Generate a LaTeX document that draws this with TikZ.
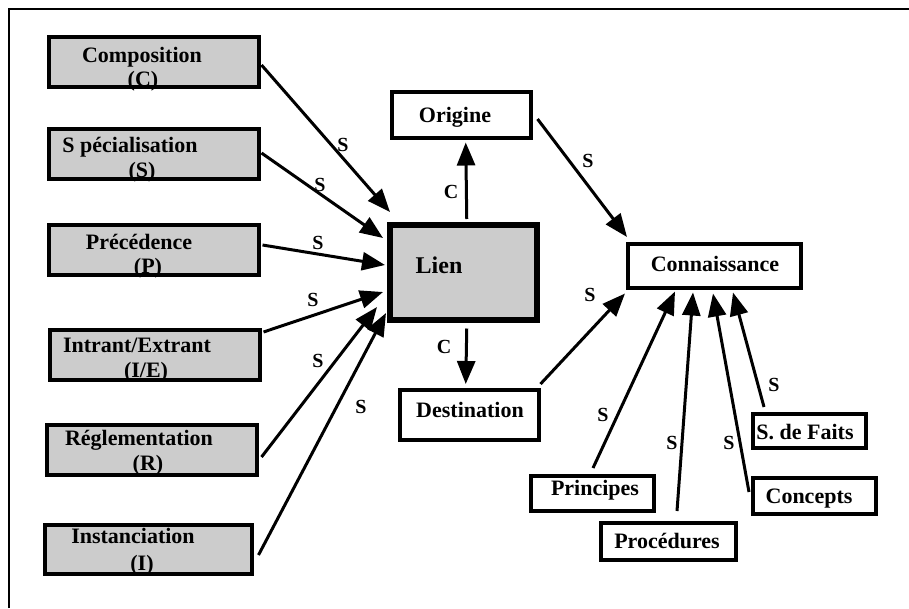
\documentclass[tikz,border=0pt]{standalone}
\usepackage{fontspec}
\setmainfont{Liberation Serif}
\usetikzlibrary{arrows.meta,calc}
\definecolor{boxgrey}{HTML}{CCCCCC}
\tikzset{
  greybox/.style={draw=black, fill=boxgrey, line width=3.5pt, inner sep=0pt, anchor=north west},
  whitebox/.style={draw=black, fill=white, line width=3.5pt, inner sep=0pt, anchor=north west},
  linkbox/.style={draw=black, fill=boxgrey, line width=5.5pt, inner sep=0pt, anchor=north west},
  txt/.style={inner sep=0pt, anchor=base, font=\fontsize{22}{24}\selectfont\bfseries},
  bigtxt/.style={inner sep=0pt, anchor=base, font=\fontsize{24}{26}\selectfont\bfseries},
  lbl/.style={inner sep=0pt, font=\fontsize{20}{22}\selectfont\bfseries},
  arr/.style={line width=3pt, -{Triangle[length=23pt,width=18pt]}},
  frame/.style={line width=2.4pt}
}
\begin{document}
\begin{tikzpicture}[x=1pt,y=-1pt]
\useasboundingbox (0,0) rectangle (909,608);
\draw[frame] (9,608) -- (9,9) -- (909,9);

% left boxes
\node[greybox, minimum width=210pt, minimum height=50pt] (comp) at (47,35) {};
\node[greybox, minimum width=210pt, minimum height=50pt] (spec) at (47,127) {};
\node[greybox, minimum width=210pt, minimum height=50pt] (prec) at (47,223) {};
\node[greybox, minimum width=210pt, minimum height=50pt] (intr) at (48,328) {};
\node[greybox, minimum width=210pt, minimum height=50pt] (regl) at (45,423) {};
\node[greybox, minimum width=207pt, minimum height=49pt] (inst) at (43,523) {};

\node[txt] (tcomp) at (142,62) {Composition};
\node[txt] (tcompb) at (143,86) {(C)};
\node[txt] (tspec) at (130,152) {S pécialisation};
\node[txt] (tspecb) at (142,177) {(S)};
\node[txt] (tprec) at (139,249) {Précédence};
\node[txt] (tprecb) at (148,273) {(P)};
\node[txt] (tintr) at (137,352) {Intrant/Extrant};
\node[txt] (tintrb) at (146,377) {(I/E)};
\node[txt] (tregl) at (139,445) {Réglementation};
\node[txt] (treglb) at (148,470) {(R)};
\node[txt] (tinst) at (133,543) {Instanciation};
\node[txt] (tinstb) at (142,570) {(I)};

% centre
\node[linkbox, minimum width=147pt, minimum height=95pt] (lien) at (387,222) {};
\node[bigtxt] (tlien) at (439,273) {Lien};
\node[whitebox, minimum width=139pt, minimum height=46pt] (orig) at (390,90) {};
\node[txt] (torig) at (455,122) {Origine};
\node[whitebox, minimum width=139pt, minimum height=50pt] (dest) at (398,388) {};
\node[txt] (tdest) at (470,417) {Destination};

% right
\node[whitebox, minimum width=173pt, minimum height=44pt] (conn) at (626,242) {};
\node[txt] (tconn) at (715,271) {Connaissance};
\node[whitebox, minimum width=123pt, minimum height=35pt] (prin) at (529,474) {};
\node[txt] (tprin) at (595,495) {Principes};
\node[whitebox, minimum width=135pt, minimum height=37pt] (proc) at (599,521) {};
\node[txt] (tproc) at (667,548) {Procédures};
\node[whitebox, minimum width=123pt, minimum height=36pt] (conc) at (751,476) {};
\node[txt] (tconc) at (809,503) {Concepts};
\node[whitebox, minimum width=113pt, minimum height=34pt] (sdf) at (751,412) {};
\node[txt] (tsdf) at (805,439) {S. de Faits};

% arrows into Lien
\draw[arr] ($(comp.north east)+(1,30)$) -- ($(lien.north west)+(3,-10)$);
\draw[arr] ($(spec.north east)+(1,26)$) -- ($(lien.north west)+(-4,16)$);
\draw[arr] ($(prec.north east)+(2,22)$) -- ($(lien.north west)+(-2,43)$);
\draw[arr] ($(intr.north east)+(2,4)$) -- ($(lien.north west)+(-4,70)$);
\draw[arr] ($(regl.north east)+(3,34)$) -- ($(lien.north west)+(-10,85)$);
\draw[arr] ($(inst.north east)+(5,32)$) -- ($(lien.north west)+(-1,91)$);

% Lien to Origine / Destination
\draw[arr] ($(lien.north)+(3.5,-3)$) -- ($(orig.south)+(4.5,3)$);
\draw[arr] ($(lien.south)+(3.5,6)$) -- ($(dest.north)+(-3.5,-4)$);

% into Connaissance
\draw[arr] ($(orig.north east)+(5,29)$) -- ($(conn.north west)+(1,-5)$);
\draw[arr] ($(dest.north east)+(0,-4)$) -- ($(conn.south west)+(-1,4)$);
\draw[arr] ($(prin.north west)+(64,-6)$) -- ($(conn.south west)+(49,2)$);
\draw[arr] ($(proc.north west)+(78,-10)$) -- ($(conn.south west)+(67,3)$);
\draw[arr] ($(conc.north west)+(-2,16)$) -- ($(conn.south west)+(87,4)$);
\draw[arr] ($(sdf.north west)+(13,-5)$) -- ($(conn.south west)+(107,3)$);

% labels
\node[lbl] (s1) at (343,145) {S};
\node[lbl] (s2) at (320,185) {S};
\node[lbl] (s3) at (318,243) {S};
\node[lbl] (s4) at (313,300) {S};
\node[lbl] (s5) at (318,361) {S};
\node[lbl] (s6) at (361,407) {S};
\node[lbl] (c1) at (451,192) {C};
\node[lbl] (c2) at (444,347) {C};
\node[lbl] (s7) at (588,161) {S};
\node[lbl] (s8) at (590,295) {S};
\node[lbl] (s9) at (603,415) {S};
\node[lbl] (s10) at (672,443) {S};
\node[lbl] (s11) at (729,443) {S};
\node[lbl] (s12) at (774,385) {S};
\end{tikzpicture}
\end{document}
